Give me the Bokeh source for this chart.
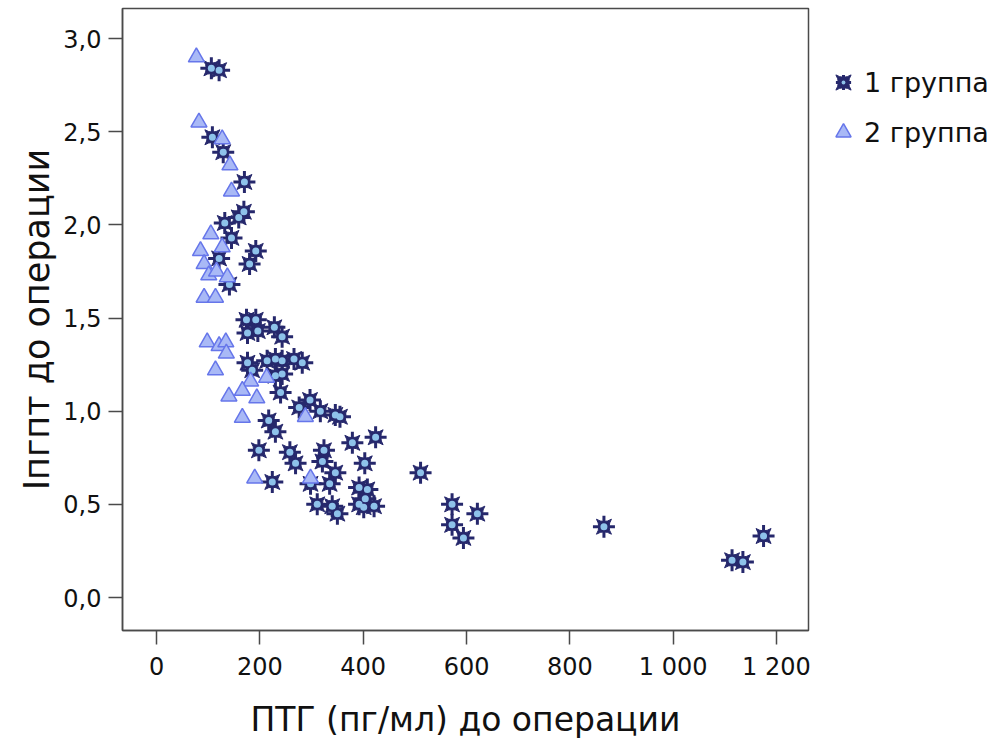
from bokeh.plotting import figure
from bokeh.models import (Range1d, FixedTicker, CustomJSTickFormatter, Legend,
                          LegendItem, ColumnDataSource)
from bokeh.embed import file_html
from bokeh.resources import INLINE

# ---- data ----
g1_ptg = [106, 121, 108, 129, 170, 169, 159, 132, 145, 192, 121, 180, 141, 174, 192,
          176, 196, 228, 243, 176, 185, 214, 230, 243, 266, 282, 230, 243, 240, 276,
          297, 317, 346, 355, 217, 230, 379, 424, 198, 258, 269, 324, 321, 403, 346,
          298, 335, 224, 408, 392, 511, 311, 340, 350, 392, 401, 421, 404, 572, 572,
          621, 594, 866, 1175, 1114, 1135]
g1_ipgpt = [2.84, 2.83, 2.47, 2.39, 2.23, 2.07, 2.04, 2.01, 1.93, 1.86, 1.82, 1.79, 1.68, 1.49, 1.49,
            1.42, 1.43, 1.45, 1.40, 1.26, 1.22, 1.27, 1.28, 1.27, 1.28, 1.26, 1.19, 1.20, 1.10, 1.02,
            1.06, 1.00, 0.98, 0.97, 0.95, 0.89, 0.83, 0.86, 0.79, 0.78, 0.72, 0.79, 0.73, 0.72, 0.67,
            0.61, 0.61, 0.62, 0.58, 0.59, 0.67, 0.50, 0.49, 0.45, 0.50, 0.485, 0.49, 0.53, 0.50, 0.39,
            0.45, 0.32, 0.38, 0.33, 0.20, 0.19]

g2_ptg = [77, 82, 127, 142, 145, 105, 85, 127, 92, 101, 116, 137, 92, 114, 98, 121, 134, 135,
          114, 182, 213, 166, 140, 194, 166, 288, 190, 298]
g2_ipgpt = [2.90, 2.55, 2.46, 2.32, 2.18, 1.95, 1.86, 1.88, 1.79, 1.73, 1.75, 1.72, 1.61, 1.61,
            1.37, 1.35, 1.37, 1.31, 1.22, 1.16, 1.18, 1.11, 1.08, 1.07, 0.965, 0.97, 0.64, 0.64]

group_labels = ["1 группа", "2 группа"]
x_ticks = [0, 200, 400, 600, 800, 1000, 1200]
y_ticks = [0.0, 0.5, 1.0, 1.5, 2.0, 2.5, 3.0]
x_title = "ПТГ (пг/мл) до операции"
y_title = "Iпгпт до операции"

FONT = "DejaVu Sans"
NAVY = "#26286c"
LIGHT = "#8ec2ea"
TRI_FILL = "#a9b9f6"
TRI_LINE = "#6676ea"
FRAME = "#4a4a4a"

src1 = ColumnDataSource(dict(x=g1_ptg, y=g1_ipgpt))
src2 = ColumnDataSource(dict(x=g2_ptg, y=g2_ipgpt))

p = figure(frame_width=686, frame_height=622,
           min_border_left=122, min_border_right=195, min_border_top=8, min_border_bottom=123,
           x_range=Range1d(-66, 1262), y_range=Range1d(-0.177, 3.161),
           output_backend="svg", toolbar_location=None)

p.xgrid.visible = False
p.ygrid.visible = False
p.outline_line_color = FRAME
p.outline_line_width = 1.5
p.background_fill_color = "white"
p.border_fill_color = "white"

# group 1: eight-pointed star built from layered markers
r_pin = p.scatter("x", "y", source=src1, marker="square_pin", size=15,
                  fill_color=NAVY, line_color=NAVY, line_width=1)
r_cross = p.scatter("x", "y", source=src1, marker="cross", size=22,
                    line_color=NAVY, line_width=3)
r_dot = p.scatter("x", "y", source=src1, marker="dot", size=28,
                  line_color=LIGHT)

# group 2: triangles
r_tri = p.scatter("x", "y", source=src2, marker="triangle", size=16,
                  fill_color=TRI_FILL, line_color=TRI_LINE, line_width=1.5)

# axes
for ax in (p.xaxis[0], p.yaxis[0]):
    ax.axis_line_color = FRAME
    ax.axis_line_width = 1.5
    ax.major_tick_line_color = FRAME
    ax.major_tick_line_width = 1.5
    ax.major_tick_in = 0
    ax.major_tick_out = 14
    ax.minor_tick_line_color = None
    ax.major_label_text_font = FONT
    ax.major_label_text_font_size = "24px"
    ax.major_label_text_color = "#111111"
    ax.axis_label_text_font = FONT
    ax.axis_label_text_font_style = "normal"
    ax.axis_label_text_color = "#111111"

p.xaxis.axis_label_text_font_size = "33px"
p.yaxis.axis_label_text_font_size = "35px"
p.xaxis.ticker = FixedTicker(ticks=x_ticks)
p.yaxis.ticker = FixedTicker(ticks=y_ticks)
p.xaxis.formatter = CustomJSTickFormatter(code="""
    const s = Math.round(tick).toString();
    return s.length > 3 ? s.slice(0, -3) + ' ' + s.slice(-3) : s;
""")
p.yaxis.formatter = CustomJSTickFormatter(code="""
    return tick.toFixed(1).replace('.', ',');
""")
p.xaxis.axis_label = x_title
p.yaxis.axis_label = y_title
p.xaxis.major_label_standoff = 8
p.yaxis.major_label_standoff = 7
p.xaxis.axis_label_standoff = 16
p.yaxis.axis_label_standoff = 3

legend = Legend(items=[LegendItem(label=group_labels[0], renderers=[r_pin, r_cross, r_dot]),
                       LegendItem(label=group_labels[1], renderers=[r_tri])],
                location=(16, 479), orientation="vertical",
                glyph_width=38, glyph_height=38, label_height=38, spacing=12,
                padding=0, margin=0, label_standoff=2,
                label_text_font=FONT, label_text_font_size="27px",
                label_text_color="#111111",
                border_line_color=None, background_fill_alpha=0)
p.add_layout(legend, "right")

open("out.html", "w").write(file_html(p, INLINE))
